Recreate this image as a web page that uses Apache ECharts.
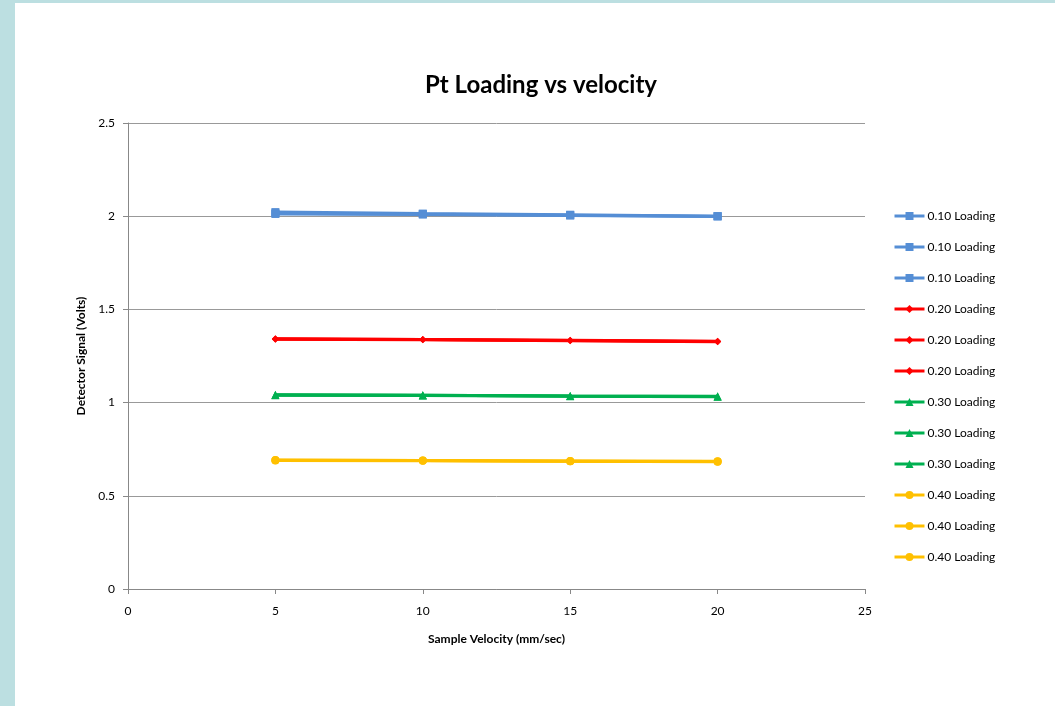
<!DOCTYPE html>
<html>
<head>
<meta charset="utf-8">
<script src="https://cdn.jsdelivr.net/npm/echarts@6/dist/echarts.min.js"></script>
<style>
html,body{margin:0;padding:0;background:#fff;}
#chart{position:absolute;left:0;top:0;width:1055px;height:706px;}
#bl{position:absolute;left:0;top:0;width:15px;height:706px;background:#bcdfe1;z-index:5;}
#bt{position:absolute;left:0;top:0;width:1055px;height:3px;background:#bcdfe1;z-index:5;}
</style>
</head>
<body>
<div id="chart"></div>
<div id="bl"></div>
<div id="bt"></div>
<script>
const velocities = [5, 10, 15, 20];
const load10a = [2.022, 2.014, 2.008, 2.000];
const load10b = [2.016, 2.011, 2.005, 2.000];
const load10c = [2.012, 2.009, 2.004, 1.999];
const load20a = [1.342, 1.339, 1.334, 1.329];
const load20b = [1.341, 1.338, 1.333, 1.328];
const load20c = [1.340, 1.337, 1.332, 1.327];
const load30a = [1.042, 1.040, 1.036, 1.034];
const load30b = [1.041, 1.039, 1.035, 1.033];
const load30c = [1.040, 1.038, 1.034, 1.032];
const load40a = [0.692, 0.690, 0.687, 0.685];
const load40b = [0.691, 0.689, 0.686, 0.684];
const load40c = [0.690, 0.688, 0.685, 0.683];
const xTicks = [0, 5, 10, 15, 20, 25];
const yTicks = [0, 0.5, 1, 1.5, 2, 2.5];

const groups = [
  {name:'0.10 Loading', color:'#558ed5', symbol:'rect', size:8, data:[load10a, load10b, load10c]},
  {name:'0.20 Loading', color:'#ff0000', symbol:'diamond', size:7, data:[load20a, load20b, load20c]},
  {name:'0.30 Loading', color:'#00b050', symbol:'triangle', size:8, data:[load30a, load30b, load30c]},
  {name:'0.40 Loading', color:'#ffc000', symbol:'circle', size:8, data:[load40a, load40b, load40c]}
];
const FONT = 'Lato, "Open Sans", sans-serif';
const series = [];
const legendData = [];
groups.forEach(g => {
  g.data.forEach((vals, i) => {
    const nm = g.name + (i === 0 ? '' : '\u200B'.repeat(i));
    legendData.push(nm);
    series.push({
      name: nm,
      type: 'line',
      data: velocities.map((v, k) => [v, vals[k]]),
      symbol: g.symbol,
      symbolSize: g.size,
      lineStyle: {width: 3, color: g.color},
      itemStyle: {color: g.color},
      emphasis: {disabled: true},
      animation: false
    });
  });
});

const chart = echarts.init(document.getElementById('chart'));
chart.setOption({
  backgroundColor: '#fff',
  title: {
    text: 'Pt Loading vs velocity',
    left: 536, top: 68, textAlign: 'center',
    textStyle: {fontFamily: FONT, fontSize: 24, fontWeight: 'bold', color: '#000'}
  },
  grid: {left: 128, right: 190, top: 123, bottom: 117},
  legend: {
    orient: 'vertical',
    left: 893, top: 209, padding: 0,
    itemWidth: 30, itemHeight: 10, itemGap: 17,
    data: legendData,
    lineStyle: {width: 3},
    formatter: n => n.replace(/\u200B/g, ''),
    textStyle: {fontFamily: FONT, fontSize: 12, color: '#000', lineHeight: 14, padding: [0,0,0,-2]}
  },
  xAxis: {
    type: 'value', min: xTicks[0], max: xTicks[xTicks.length-1], interval: 5,
    name: 'Sample Velocity (mm/sec)', nameLocation: 'middle', nameGap: 44,
    nameTextStyle: {fontFamily: FONT, fontSize: 12, fontWeight: 'bold', color: '#000'},
    axisLine: {show: true, lineStyle: {color: '#888', width: 1}},
    axisTick: {show: true, length: 5, lineStyle: {color: '#888'}},
    axisLabel: {fontFamily: FONT, fontSize: 12, color: '#000', margin: 16},
    splitLine: {show: false}
  },
  yAxis: {
    type: 'value', min: yTicks[0], max: yTicks[yTicks.length-1], interval: 0.5,
    name: 'Detector Signal (Volts)', nameLocation: 'middle', nameGap: 33, nameRotate: 90,
    nameTextStyle: {fontFamily: FONT, fontSize: 12, fontWeight: 'bold', color: '#000'},
    axisLine: {show: true, lineStyle: {color: '#888', width: 1}},
    axisTick: {show: true, length: 5, lineStyle: {color: '#888'}},
    axisLabel: {fontFamily: FONT, fontSize: 12, color: '#000', margin: 13},
    splitLine: {show: true, lineStyle: {color: '#999', width: 1}}
  },
  series: series
});
</script>
</body>
</html>
